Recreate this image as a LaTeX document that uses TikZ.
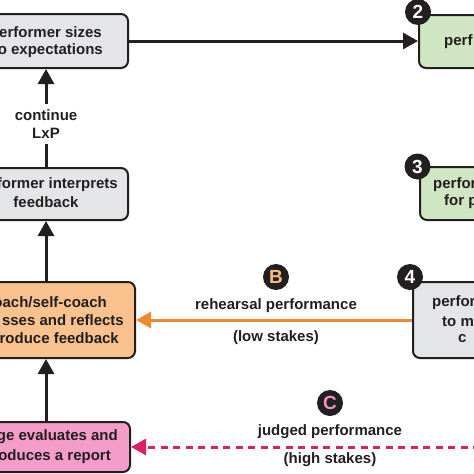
\documentclass[tikz,border=0pt]{standalone}
\usepackage{fontspec}
\setmainfont{Liberation Sans}
\usetikzlibrary{arrows.meta}
\definecolor{ink}{HTML}{231F20}
\definecolor{greyfill}{HTML}{E4E5E7}
\definecolor{greenfill}{HTML}{D0E6C3}
\definecolor{orangefill}{HTML}{F9C28E}
\definecolor{pinkfill}{HTML}{F49DC9}
\definecolor{orangeline}{HTML}{EE8B2F}
\definecolor{pinkline}{HTML}{DA2067}
\definecolor{letterB}{HTML}{F6BB80}
\definecolor{letterC}{HTML}{EF93C4}
\tikzset{
  box/.style={draw=ink, line width=2pt, rounded corners=7pt, inner sep=0pt},
  txt/.style={inner sep=0pt, text=ink, font=\bfseries\fontsize{15}{18}\selectfont},
  lbl/.style={inner sep=0pt, text=ink, align=center, font=\bfseries\fontsize{15}{18}\selectfont},
  badge/.style={circle, fill=ink, inner sep=0pt, minimum size=26pt, font=\bfseries\fontsize{19}{19}\selectfont},
  blackarrow/.style={draw=ink, line width=3pt, -{Triangle[length=15pt,width=16pt]}},
  orangearrow/.style={draw=orangeline, line width=3pt, -{Triangle[length=15pt,width=16pt]}},
  pinkarrow/.style={draw=pinkline, line width=3pt, dash pattern=on 7pt off 5.5pt, -{Triangle[length=15pt,width=16pt]}},
}
\begin{document}
\begin{tikzpicture}[x=1pt,y=-1pt]
\useasboundingbox (0,0) rectangle (474,474);
\clip (0,0) rectangle (474,474);
\fill[white] (0,0) rectangle (474,474);

% left column boxes
\node[box, fill=greyfill, minimum width=164pt, minimum height=54pt] (A) at (46,41) {};
\node[box, fill=greyfill, minimum width=164pt, minimum height=52pt] (I) at (46,194) {};
\node[box, fill=orangefill, minimum width=178pt, minimum height=76pt] (K) at (46,320) {};
\node[box, fill=pinkfill, minimum width=168pt, minimum height=50pt] (J) at (46,447) {};

% right column boxes
\node[box, fill=greenfill, minimum width=150pt, minimum height=53pt] (P2) at (494,41.5) {};
\node[box, fill=greenfill, minimum width=150pt, minimum height=53pt] (P3) at (495,193.5) {};
\node[box, fill=greyfill, minimum width=150pt, minimum height=76pt] (P4) at (488,320) {};

% box texts (visible parts)
\node[txt, anchor=east] (a1) at (102,32) {erformer sizes};
\node[txt, anchor=east] (a2) at (103,51) {o expectations};
\node[txt, anchor=east] (i1) at (118,185) {former interprets};
\node[txt] (i2) at (46,202) {feedback};
\node[txt, anchor=east] (k1) at (107,302) {oach/self-coach};
\node[txt, anchor=east] (k2) at (124,320) {sses and reflects};
\node[txt, anchor=east] (k3) at (119,338) {roduce feedback};
\node[txt, anchor=east] (j1) at (118,437) {ge evaluates and};
\node[txt, anchor=east] (j2) at (111,457) {oduces a report};
\node[txt, anchor=west] (p21) at (444,42) {perf};
\node[txt, anchor=west] (p31) at (433,185) {perfor};
\node[txt, anchor=west] (p32) at (444,202) {for p};
\node[txt, anchor=west] (p41) at (432,303) {perfor};
\node[txt, anchor=west] (p42) at (442,322) {to m};
\node[txt, anchor=west] (p43) at (458,339) {c};

% continue label
\node[lbl, inner ysep=5pt] (cont) at (46,124) {continue\\LxP};

% connectors
\draw[blackarrow] (A.east) -- (A.east -| P2.west);
\draw[draw=ink, line width=3pt] (I.north) -- (cont.south);
\draw[blackarrow] (cont.north) -- (A.south);
\draw[blackarrow] (K.north) -- (I.south);
\draw[blackarrow] (J.north) -- (K.south);
\draw[orangearrow] (P4.west) -- (K.east);
\coordinate (cstart) at (480,447);
\draw[pinkarrow] (cstart) -- (J.east);

% edge labels
\node[lbl] (bl1) at (276,306) {rehearsal performance};
\node[lbl] (bl2) at (276,338) {(low stakes)};
\node[lbl] (cl1) at (330,432) {judged performance};
\node[lbl] (cl2) at (330,460) {(high stakes)};

% badges
\node[badge, text=white] (b2) at (418,12) {2};
\node[badge, text=white] (b3) at (417.5,166.5) {3};
\node[badge, text=white] (b4) at (410,277) {4};
\node[badge, text=letterB] (bB) at (276,277) {B};
\node[badge, text=letterC] (bC) at (330,403) {C};
\end{tikzpicture}
\end{document}
